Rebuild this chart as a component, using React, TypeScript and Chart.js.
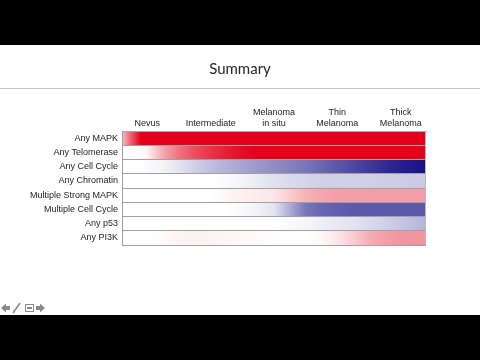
import React, { useEffect, useRef } from "react";
import { Chart, registerables } from "chart.js";

Chart.register(...registerables);

const rowLabels = [
  "Any MAPK",
  "Any Telomerase",
  "Any Cell Cycle",
  "Any Chromatin",
  "Multiple Strong MAPK",
  "Multiple Cell Cycle",
  "Any p53",
  "Any PI3K",
];

const columnLabels: (string | string[])[] = [
  "Nevus",
  "Intermediate",
  ["Melanoma", "in situ"],
  ["Thin", "Melanoma"],
  ["Thick", "Melanoma"],
];

const columnTicks = [0, 1, 2, 3, 4];

const rowHue = ["red", "red", "blue", "blue", "red", "blue", "blue", "red"];

// positions along the progression axis (column units) where intensity is read
const stopPositions = [
  -0.4, -0.25, -0.1, 0, 0.25, 0.5, 0.75, 1, 1.25, 1.5, 1.75, 2, 2.25, 2.5, 2.75,
  3, 3.25, 3.5, 3.75, 4, 4.25, 4.4,
];

const anyMapk = [0.25, 0.65, 1, 1, 1, 1, 1, 1, 1, 1, 1, 1, 1, 1, 1, 1, 1, 1, 1, 1, 1, 1];
const anyTelomerase = [0, 0, 0.02, 0.05, 0.35, 0.55, 0.7, 0.8, 0.88, 0.95, 1, 1, 1, 1, 1, 1, 1, 1, 1, 1, 1, 1];
const anyCellCycle = [0, 0, 0, 0.02, 0.05, 0.12, 0.2, 0.27, 0.33, 0.38, 0.43, 0.48, 0.53, 0.58, 0.64, 0.71, 0.77, 0.83, 0.89, 0.94, 0.98, 1];
const anyChromatin = [0, 0, 0, 0, 0, 0, 0, 0, 0.02, 0.05, 0.09, 0.13, 0.16, 0.18, 0.2, 0.2, 0.2, 0.2, 0.21, 0.21, 0.22, 0.22];
const multipleStrongMapk = [0, 0, 0, 0, 0, 0, 0, 0, 0.04, 0.06, 0.08, 0.1, 0.2, 0.3, 0.35, 0.38, 0.38, 0.38, 0.38, 0.38, 0.38, 0.38];
const multipleCellCycle = [0, 0, 0, 0, 0, 0, 0, 0, 0, 0.02, 0.06, 0.12, 0.35, 0.58, 0.65, 0.68, 0.7, 0.7, 0.7, 0.7, 0.7, 0.7];
const anyP53 = [0, 0, 0, 0, 0, 0, 0, 0, 0, 0, 0, 0, 0.02, 0.04, 0.07, 0.1, 0.12, 0.16, 0.2, 0.24, 0.29, 0.32];
const anyPi3k = [0, 0, 0, 0, 0.02, 0.05, 0.06, 0.05, 0.04, 0.03, 0.02, 0.01, 0, 0, 0.03, 0.1, 0.2, 0.32, 0.38, 0.41, 0.42, 0.42];

const rowValues = [
  anyMapk,
  anyTelomerase,
  anyCellCycle,
  anyChromatin,
  multipleStrongMapk,
  multipleCellCycle,
  anyP53,
  anyPi3k,
];

const RED = [226, 0, 26];
const BLUE = [22, 18, 135];

function mix(base: number[], t: number) {
  const r = Math.round(255 - t * (255 - base[0]));
  const g = Math.round(255 - t * (255 - base[1]));
  const b = Math.round(255 - t * (255 - base[2]));
  return `rgb(${r},${g},${b})`;
}

const decorPlugin = {
  id: "decor",
  beforeDraw(chart: any) {
    const { ctx, width, height } = chart;
    ctx.save();
    ctx.fillStyle = "#ffffff";
    ctx.fillRect(0, 0, width, height);
    ctx.fillStyle = "#000000";
    ctx.fillRect(0, 0, width, 45);
    ctx.fillRect(0, 315, width, height - 315);
    // title
    ctx.fillStyle = "#262626";
    ctx.font = "15px Lato";
    ctx.textAlign = "center";
    ctx.textBaseline = "alphabetic";
    ctx.fillText("Summary", 240, 74);
    // separator
    ctx.strokeStyle = "#c4c4c4";
    ctx.lineWidth = 1;
    ctx.beginPath();
    ctx.moveTo(0, 88.5);
    ctx.lineTo(width, 88.5);
    ctx.stroke();
    // nav icons
    ctx.fillStyle = "#8a8a8a";
    ctx.strokeStyle = "#8a8a8a";
    ctx.beginPath();
    ctx.moveTo(1, 308);
    ctx.lineTo(6, 303.5);
    ctx.lineTo(6, 306);
    ctx.lineTo(10, 306);
    ctx.lineTo(10, 310);
    ctx.lineTo(6, 310);
    ctx.lineTo(6, 312.5);
    ctx.closePath();
    ctx.fill();
    ctx.lineWidth = 1.6;
    ctx.beginPath();
    ctx.moveTo(13, 313);
    ctx.lineTo(20, 303);
    ctx.stroke();
    ctx.lineWidth = 1;
    ctx.strokeRect(25.5, 304.5, 8, 7);
    ctx.fillRect(27, 307, 5, 2);
    ctx.beginPath();
    ctx.moveTo(45, 308);
    ctx.lineTo(40, 303.5);
    ctx.lineTo(40, 306);
    ctx.lineTo(36, 306);
    ctx.lineTo(36, 310);
    ctx.lineTo(40, 310);
    ctx.lineTo(40, 312.5);
    ctx.closePath();
    ctx.fill();
    ctx.restore();
  },
  afterDraw(chart: any) {
    const { ctx, chartArea } = chart;
    if (!chartArea) return;
    ctx.save();
    ctx.strokeStyle = "#b8b8b8";
    ctx.lineWidth = 1;
    ctx.beginPath();
    ctx.moveTo(Math.round(chartArea.right) - 0.5, chartArea.top);
    ctx.lineTo(Math.round(chartArea.right) - 0.5, chartArea.bottom);
    ctx.stroke();
    ctx.restore();
  },
};

export default function App() {
  const ref = useRef<HTMLCanvasElement>(null);

  useEffect(() => {
    if (!ref.current) return;
    const first = stopPositions[0];
    const last = stopPositions[stopPositions.length - 1];
    const chart = new Chart(ref.current, {
      type: "bar",
      data: {
        labels: rowLabels,
        datasets: [
          {
            data: rowLabels.map(() => [first, last]) as any,
            backgroundColor: (c: any) => {
              const ch = c.chart;
              const xs = ch.scales && ch.scales.x;
              if (!ch.chartArea || !xs) return "#ffffff";
              const x0 = xs.getPixelForValue(first);
              const x1 = xs.getPixelForValue(last);
              const grad = ch.ctx.createLinearGradient(x0, 0, x1, 0);
              const vals = rowValues[c.dataIndex] || [];
              const base = rowHue[c.dataIndex] === "red" ? RED : BLUE;
              stopPositions.forEach((p, i) => {
                grad.addColorStop((p - first) / (last - first), mix(base, vals[i] ?? 0));
              });
              return grad;
            },
            borderWidth: 0,
            categoryPercentage: 1,
            barPercentage: 1,
          },
        ],
      },
      options: {
        indexAxis: "y",
        responsive: false,
        animation: false,
        layout: { padding: { left: 0, top: 0, right: 54, bottom: 115 } },
        plugins: {
          legend: { display: false },
          title: { display: false },
          tooltip: { enabled: false },
        },
        scales: {
          x: {
            type: "linear",
            position: "top",
            min: first,
            max: last,
            grid: { display: false, drawTicks: false },
            border: { display: true, color: "#a8a8a8", width: 1, z: 2 },
            afterBuildTicks: (s: any) => {
              s.ticks = columnTicks.map((v) => ({ value: v }));
            },
            afterFit: (s: any) => {
              s.height = 131;
            },
            ticks: {
              autoSkip: false,
              maxRotation: 0,
              padding: 2,
              color: "#222222",
              font: { family: "'Liberation Sans', Arial, sans-serif", size: 9 },
              callback: (v: any) => columnLabels[columnTicks.indexOf(Number(v))] as any,
            },
          },
          y: {
            type: "category",
            grid: { display: true, color: "#a0a0a0", lineWidth: 1, drawTicks: false, z: 1 },
            border: { display: true, color: "#a0a0a0", width: 1, z: 2 },
            afterFit: (s: any) => {
              s.width = 122;
            },
            ticks: {
              padding: 4,
              color: "#222222",
              font: { family: "'Liberation Sans', Arial, sans-serif", size: 9 },
            },
          },
        },
      } as any,
      plugins: [decorPlugin],
    });
    return () => chart.destroy();
  }, []);

  return (
    <div style={{ position: "fixed", left: 0, top: 0, width: 480, height: 360 }}>
      <canvas ref={ref} width={480} height={360} />
    </div>
  );
}
